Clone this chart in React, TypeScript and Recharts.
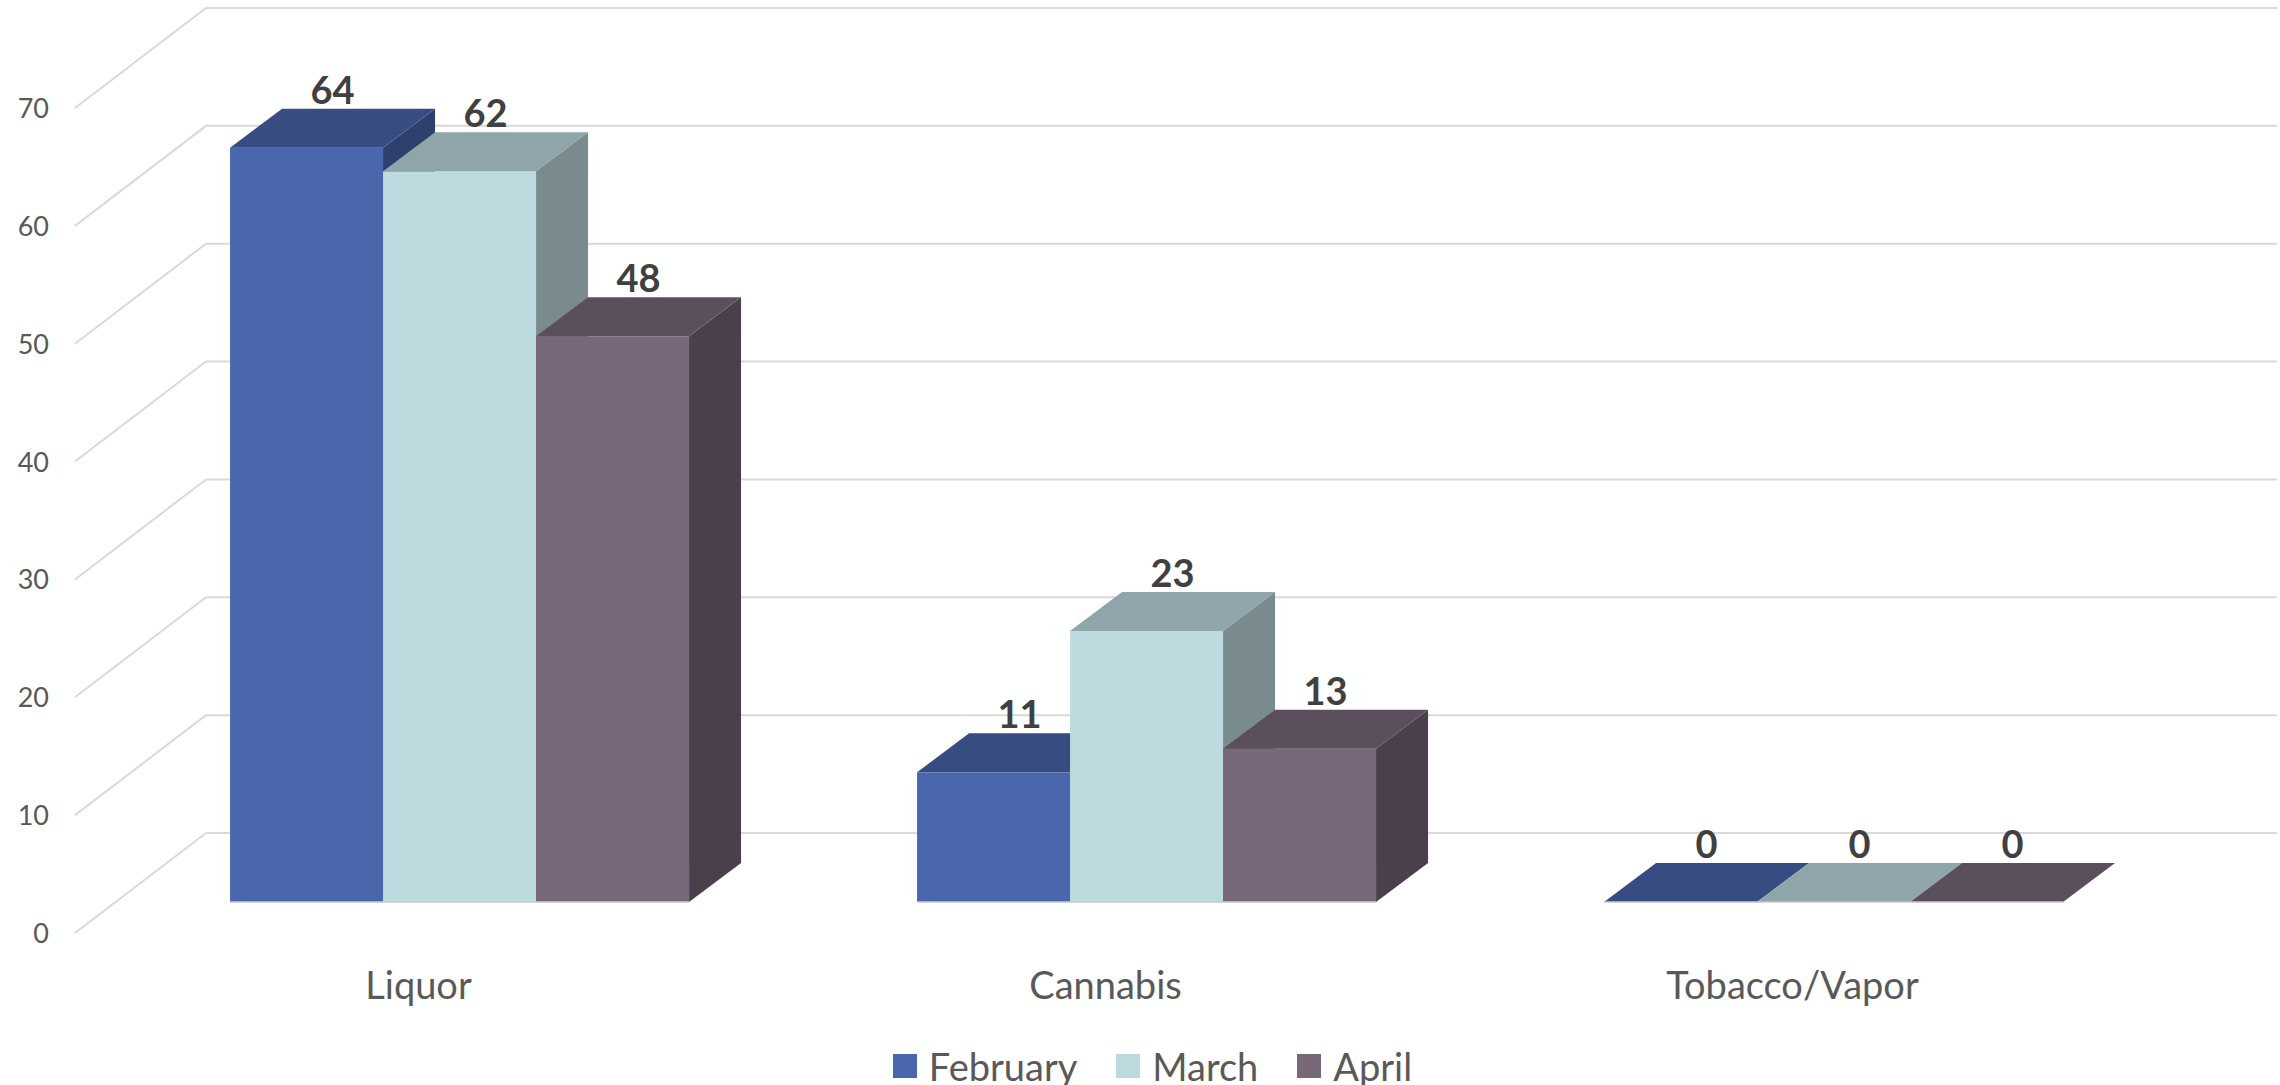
import React from 'react';
import { BarChart, Bar, XAxis, YAxis, CartesianGrid, Legend, LabelList } from 'recharts';

const categories = ['Liquor', 'Cannabis', 'Tobacco/Vapor'];
const february = [64, 11, 0];
const march = [62, 23, 0];
const april = [48, 13, 0];
const yTicks = [0, 10, 20, 30, 40, 50, 60, 70];
const seriesNames = ['February', 'March', 'April'];

const data = categories.map((name, i) => ({
  name,
  february: february[i],
  march: march[i],
  april: april[i],
}));

// fake 3d offsets (px)
const DX = 52;
const DY = 39;
const WALL_DX = 90;
const WALL_DY = 69;
const FRONT_DX = 41;
const FRONT_DY = 31;

const FONT = 'Lato, "Open Sans", sans-serif';
const TEXT = '#595959';

const colors = {
  february: { front: '#4A66AC', top: '#374D81', side: '#2E406D' },
  march: { front: '#BDDBDF', top: '#90A5A9', side: '#7A8B8E' },
  april: { front: '#786879', top: '#5B4F5D', side: '#4B3F4D' },
};

const makeBox = (c: { front: string; top: string; side: string }) => (props: any) => {
  const { x, y, width, height } = props;
  const h = height || 0;
  const top = `${x},${y} ${x + DX},${y - DY} ${x + width + DX},${y - DY} ${x + width},${y}`;
  const side = `${x + width},${y} ${x + width + DX},${y - DY} ${x + width + DX},${y + h - DY} ${x + width},${y + h}`;
  return (
    <g>
      {h > 0 && <polygon points={side} fill={c.side} />}
      {h > 0 && <rect x={x} y={y} width={width} height={h} fill={c.front} />}
      <polygon points={top} fill={c.top} />
      <line x1={x} y1={y + h} x2={x + width} y2={y + h} stroke="#C8C8C8" strokeWidth={1.5} />
    </g>
  );
};

const renderValue = (props: any) => {
  const { x, y, width, value } = props;
  return (
    <text
      x={x + width / 2 + DX / 2}
      y={y - DY - 5}
      textAnchor="middle"
      fontFamily={FONT}
      fontWeight={700}
      fontSize={38}
      fill="#404040"
    >
      {value}
    </text>
  );
};

const renderGridLine = (p: any) => {
  const { x1, x2, y1 } = p;
  return (
    <g key={p.key}>
      <line x1={x1 - FRONT_DX} y1={y1 + FRONT_DY} x2={x1 + WALL_DX} y2={y1 - WALL_DY} stroke="#D9D9D9" strokeWidth={2} />
      <line x1={x1 + WALL_DX} y1={y1 - WALL_DY} x2={x2 + 100} y2={y1 - WALL_DY} stroke="#D9D9D9" strokeWidth={2} />
    </g>
  );
};

const YTick = (props: any) => (
  <text x={49} y={props.y + 41} textAnchor="end" fontFamily={FONT} fontSize={27} fill={TEXT}>
    {props.payload.value}
  </text>
);

const XTick = (props: any) => (
  <text x={props.x - FRONT_DX} y={props.y + 97} textAnchor="middle" fontFamily={FONT} fontSize={38} fill={TEXT}>
    {props.payload.value}
  </text>
);

const renderLegend = (props: any) => {
  const items = [...(props.payload || [])].sort(
    (a: any, b: any) => seriesNames.indexOf(a.value) - seriesNames.indexOf(b.value)
  );
  return (
    <div style={{ display: 'flex', justifyContent: 'center', alignItems: 'center', paddingLeft: 64 }}>
      {items.map((e: any) => (
        <div key={e.value} style={{ display: 'flex', alignItems: 'center', marginRight: 39 }}>
          <span style={{ display: 'inline-block', width: 24, height: 24, background: e.color, marginRight: 12 }} />
          <span style={{ fontFamily: FONT, fontSize: 38, color: TEXT, lineHeight: '40px' }}>{e.value}</span>
        </div>
      ))}
    </div>
  );
};

export default function App() {
  return (
    <div style={{ position: 'absolute', left: 0, top: 0, width: 2280, height: 1085, background: '#fff' }}>
      <BarChart
        width={2280}
        height={1085}
        data={data}
        margin={{ top: 77, right: 103, left: 0, bottom: 153 }}
        barGap={0}
        barCategoryGap="16.6%"
      >
        <CartesianGrid vertical={false} horizontal={renderGridLine} />
        <XAxis
          dataKey="name"
          height={30}
          axisLine={false}
          tickLine={false}
          tickSize={0}
          tickMargin={0}
          tick={XTick}
          interval={0}
        />
        <YAxis
          width={116}
          domain={[0, 70]}
          ticks={yTicks}
          axisLine={false}
          tickLine={false}
          tickSize={0}
          tickMargin={0}
          tick={YTick}
        />
        <Legend
          verticalAlign="middle"
          align="center"
          content={renderLegend}
          wrapperStyle={{ top: 1046, left: 0, width: 2280 }}
        />
        <Bar dataKey="february" name="February" fill={colors.february.front} shape={makeBox(colors.february)} isAnimationActive={false}>
          <LabelList dataKey="february" content={renderValue} />
        </Bar>
        <Bar dataKey="march" name="March" fill={colors.march.front} shape={makeBox(colors.march)} isAnimationActive={false}>
          <LabelList dataKey="march" content={renderValue} />
        </Bar>
        <Bar dataKey="april" name="April" fill={colors.april.front} shape={makeBox(colors.april)} isAnimationActive={false}>
          <LabelList dataKey="april" content={renderValue} />
        </Bar>
      </BarChart>
    </div>
  );
}
